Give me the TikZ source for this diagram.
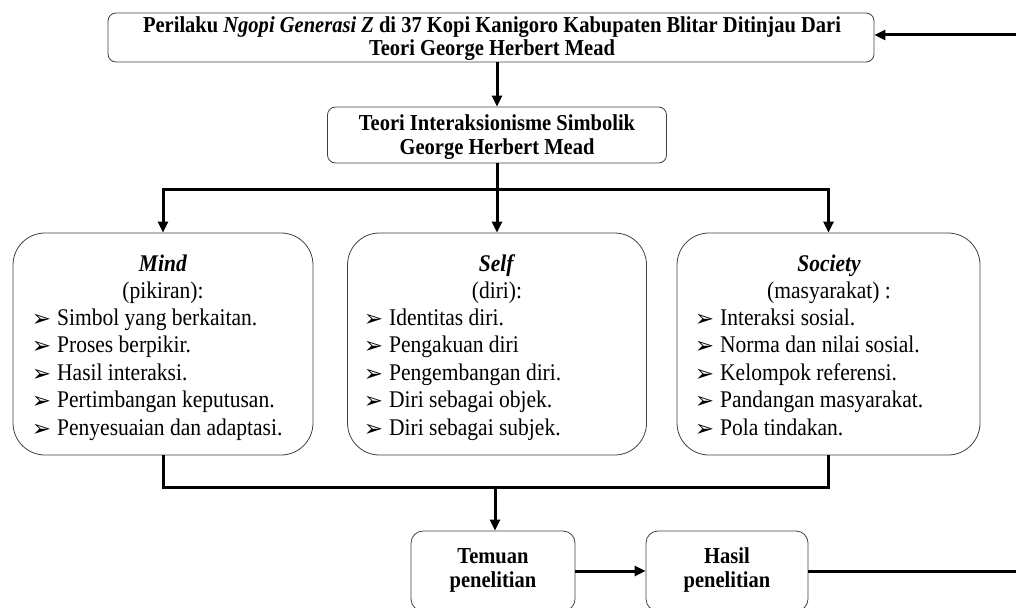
\documentclass[tikz,border=0pt]{standalone}
\usepackage{fontspec}
\setmainfont{Liberation Serif}[FakeStretch=0.9]
\newfontfamily\dvfont{DejaVu Sans}
\usetikzlibrary{arrows.meta}
\newcommand{\bul}[1]{\makebox[0pt][r]{\raisebox{-1pt}{\dvfont\fontsize{23}{23}\selectfont ➢}\hspace{#1}}}
\begin{document}
\begin{tikzpicture}[x=1pt,y=-1pt,
  box/.style={draw=black!75,line width=0.8pt,rounded corners=8pt,inner sep=0pt},
  boxtxt/.style={align=center,inner sep=0pt,font=\fontsize{22.8}{24}\selectfont\bfseries},
  bigbox/.style={draw=black!75,line width=0.8pt,rounded corners=32pt,minimum height=222pt,inner sep=0pt},
  conn/.style={line width=3pt},
  arr/.style={-{Triangle[length=11pt,width=10pt]}},
  txt/.style={inner sep=0pt,font=\fontsize{23.9}{23.9}\selectfont}]
\useasboundingbox (0,0) rectangle (1016,607);

% top and middle boxes
\node[box,minimum width=766pt,minimum height=49pt] (top) at (491,37.5) {};
\node[boxtxt,font=\fontsize{22.8}{23}\selectfont\bfseries] (toptxt) at (492,38.5)
  {Perilaku \textit{Ngopi Generasi Z} di 37 Kopi Kanigoro Kabupaten Blitar Ditinjau Dari\\Teori George Herbert Mead};
\node[box,minimum width=339pt,minimum height=56pt] (mid) at (497,135) {};
\node[boxtxt] (midtxt) at (497,137) {Teori Interaksionisme Simbolik\\George Herbert Mead};

% three boxes
\node[bigbox,minimum width=300pt] (mind) at (163,344) {};
\node[bigbox,minimum width=299pt] (self) at (497,344) {};
\node[bigbox,minimum width=303pt] (soc) at (828.5,344) {};

% Mind
\node[txt,anchor=base] (mt) at (163,271) {\textbf{\textit{Mind}}};
\node[txt,anchor=base] (ms) at (163,298) {(pikiran):};
\foreach \t [count=\i] in {Simbol yang berkaitan.,Proses berpikir.,Hasil interaksi.,Pertimbangan keputusan.,Penyesuaian dan adaptasi.}
  \node[txt,anchor=base west] (mi\i) at (57,{325+(\i-1)*27.6}) {\bul{6pt}\t};

% Self
\node[txt,anchor=base] (st) at (497,271) {\textbf{\textit{Self}}};
\node[txt,anchor=base] (ss) at (497,298) {(diri):};
\foreach \t [count=\i] in {Identitas diri.,Pengakuan diri,Pengembangan diri.,Diri sebagai objek.,Diri sebagai subjek.}
  \node[txt,anchor=base west] (si\i) at (389,{325+(\i-1)*27.6}) {\bul{6pt}\t};

% Society
\node[txt,anchor=base] (ct) at (829,271) {\textbf{\textit{Society}}};
\node[txt,anchor=base] (cs) at (829,298) {(masyarakat) :};
\foreach \t [count=\i] in {Interaksi\ sosial.,Norma dan nilai\ sosial.,Kelompok referensi.,Pandangan masyarakat.,Pola tindakan.}
  \node[txt,anchor=base west] (ci\i) at (720,{325+(\i-1)*27.6}) {\bul{6pt}\t};

% bottom boxes
\node[box,rounded corners=12pt,minimum width=164pt,minimum height=80pt] (tem) at (493,571) {};
\node[boxtxt] (temtxt) at (493,570) {Temuan\\penelitian};
\node[box,rounded corners=12pt,minimum width=162pt,minimum height=80pt] (has) at (727,571) {};
\node[boxtxt] (hastxt) at (727,570) {Hasil\\penelitian};

% connectors
\coordinate (rin) at (1016,35);
\coordinate (split) at (497,189);
\coordinate (join) at (495,487);
\coordinate (rout) at (1016,571);

\draw[conn,arr] (rin) -- (rin -| top.east);
\draw[conn,arr] (mid.north |- top.south) -- (mid.north);
\draw[conn,arr] (mid.south) -- (split) -- (split -| mind.north) -- (mind.north);
\draw[conn,arr] (split) -- (split -| soc.north) -- (soc.north);
\draw[conn,arr] (split) -- (self.north);
\draw[conn] (mind.south) -- (join -| mind.south) -- (join -| soc.south) -- (soc.south);
\draw[conn,arr] (join) -- (join |- tem.north);
\draw[conn,arr] (tem.east) -- (has.west);
\draw[conn] (has.east) -- (rout);
\end{tikzpicture}
\end{document}
